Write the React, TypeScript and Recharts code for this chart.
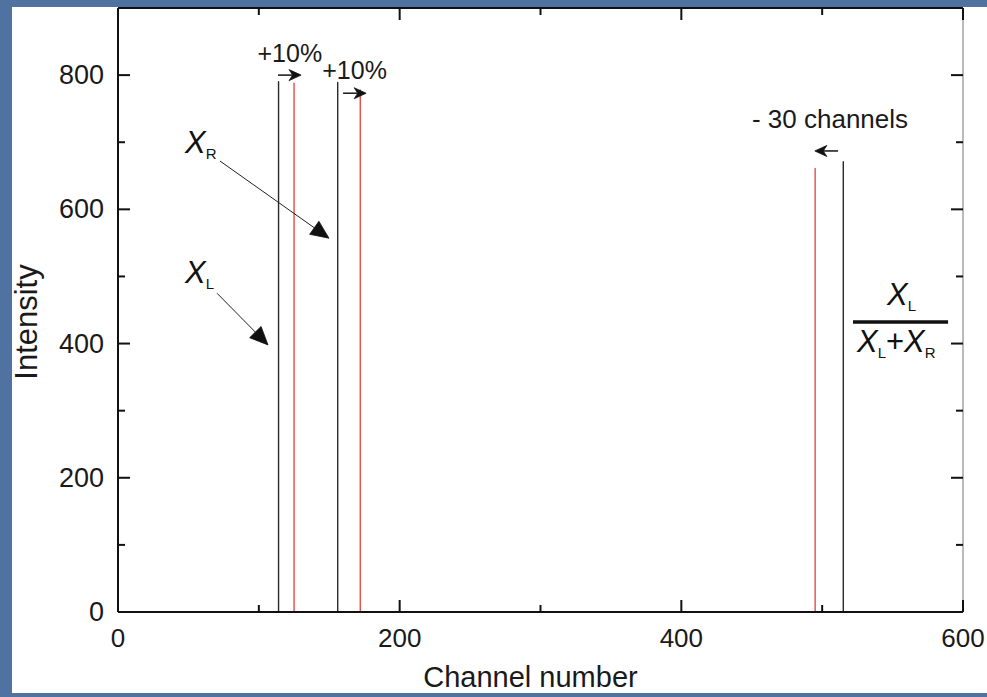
import { LineChart, Line, XAxis, YAxis, ReferenceLine, ReferenceDot, Label } from 'recharts'

// channel axis + intensity axis
const xTicks = [0, 100, 200, 300, 400, 500, 600]
const xTickLabels = ['0', '', '200', '', '400', '', '600']
const yTicks = [0, 100, 200, 300, 400, 500, 600, 700, 800, 900]
const yTickLabels = ['0', '', '200', '', '400', '', '600', '', '800', '']

// peaks before the shift (black) and after (red)
const originalChannels = [114, 156, 515]
const originalHeights = [790, 789, 671]
const shiftedChannels = [125, 172, 495]
const shiftedHeights = [788, 778, 661]

// annotations, in data units
const shiftTexts = [
  { ch: 122, y: 819, text: '+10%' },
  { ch: 168, y: 794, text: '+10%' },
]
const shiftArrows = [
  { from: [113.6, 800], to: [130, 800] },
  { from: [159.8, 773], to: [176.2, 773] },
  { from: [511.3, 687], to: [494.8, 687] },
]
const pointerArrows = [
  { from: [72.4, 672], to: [149.8, 557] },
  { from: [70.3, 475], to: [106.5, 398] },
]

const FONT = '"Liberation Sans", Arial, Helvetica, sans-serif'

function spectrum(channels: number[], heights: number[]) {
  const pts = [{ ch: 0, v: 0 }]
  channels.forEach((c, i) => {
    pts.push({ ch: c, v: 0 }, { ch: c, v: heights[i] }, { ch: c, v: 0 })
  })
  pts.push({ ch: 600, v: 0 })
  return pts
}

const blackData = spectrum(originalChannels, originalHeights)
const redData = spectrum(shiftedChannels, shiftedHeights)

function arrowShape(head: number, width: number, notch: number, lineW: number) {
  return (p: any) => {
    const { x1, y1, x2, y2 } = p
    const dx = x2 - x1
    const dy = y2 - y1
    const len = Math.hypot(dx, dy) || 1
    const ux = dx / len
    const uy = dy / len
    const nx = -uy
    const ny = ux
    const bx = x2 - ux * head
    const by = y2 - uy * head
    const mx = x2 - ux * head * notch
    const my = y2 - uy * head * notch
    const pts = [
      [x2, y2],
      [bx + (nx * width) / 2, by + (ny * width) / 2],
      [mx, my],
      [bx - (nx * width) / 2, by - (ny * width) / 2],
    ]
    return (
      <g>
        <line x1={x1} y1={y1} x2={mx} y2={my} stroke="#222" strokeWidth={lineW} />
        <polygon points={pts.map((q) => q.join(',')).join(' ')} fill="#111" stroke="#111" strokeWidth={0.8} strokeLinejoin="round" />
      </g>
    )
  }
}

function XSub({ x, y, sub, size = 31 }: { x: number; y: number; sub: string; size?: number }) {
  return (
    <text x={x} y={y} fontFamily={FONT} fill="#111" fontSize={size}>
      <tspan fontStyle="italic">X</tspan>
      <tspan fontSize={15} dy={6}>{sub}</tspan>
    </text>
  )
}

function BottomTick(props: any) {
  const { x, y, index } = props
  const axisY = y - 16
  const major = index % 2 === 0
  return (
    <g>
      <line x1={x} y1={axisY} x2={x} y2={axisY - (major ? 12 : 7)} stroke="#111" strokeWidth={2} />
      <text x={x} y={y + 19} textAnchor="middle" fontFamily={FONT} fontSize={26} fill="#1a1a1a">
        {xTickLabels[index]}
      </text>
    </g>
  )
}

function LeftTick(props: any) {
  const { x, y, index } = props
  const axisX = x + 14
  const major = index % 2 === 0
  return (
    <g>
      <line x1={axisX} y1={y} x2={axisX + (major ? 12 : 7)} y2={y} stroke="#111" strokeWidth={2} />
      <text x={x} y={y + 9} textAnchor="end" fontFamily={FONT} fontSize={27} fill="#1a1a1a">
        {yTickLabels[index]}
      </text>
    </g>
  )
}

function TopTick(props: any) {
  const { x, y, index } = props
  const major = index % 2 === 0
  return <line x1={x} y1={y} x2={x} y2={y + (major ? 12 : 7)} stroke="#111" strokeWidth={2} />
}

function RightTick(props: any) {
  const { x, y, index } = props
  const major = index % 2 === 0
  return <line x1={x} y1={y} x2={x - (major ? 12 : 7)} y2={y} stroke="#111" strokeWidth={2} />
}

export default function App() {
  return (
    <div style={{ position: 'absolute', left: 0, top: 0, width: 987, height: 697, background: '#4f72a0' }}>
      <div style={{ position: 'absolute', left: 12, top: 7, width: 975, height: 686, background: '#fff' }} />
      <div style={{ position: 'absolute', left: 0, top: 0, width: 987, height: 693, overflow: 'hidden' }}>
        <LineChart width={987} height={697} margin={{ top: 7, right: 23, bottom: 0, left: 0 }}>
          <XAxis
            dataKey="ch"
            type="number"
            domain={[0, 600]}
            allowDataOverflow
            ticks={xTicks}
            interval={0}
            height={85}
            tickSize={0}
            tickMargin={16}
            tickLine={false}
            tick={<BottomTick />}
            axisLine={{ stroke: '#111', strokeWidth: 2 }}
          >
            <Label
              content={(p: any) => {
                const vb = p.viewBox
                return (
                  <text x={vb.x + vb.width / 2 - 10} y={vb.y + 75} textAnchor="middle" fontFamily={FONT} fontSize={29} fill="#1a1a1a">
                    Channel number
                  </text>
                )
              }}
            />
          </XAxis>
          <XAxis
            xAxisId="top"
            orientation="top"
            dataKey="ch"
            type="number"
            domain={[0, 600]}
            allowDataOverflow
            ticks={xTicks}
            interval={0}
            height={1}
            tickSize={0}
            tickMargin={0}
            tickLine={false}
            tick={<TopTick />}
            axisLine={{ stroke: '#111', strokeWidth: 2 }}
          />
          <YAxis
            type="number"
            domain={[0, 900]}
            allowDataOverflow
            ticks={yTicks}
            interval={0}
            width={118}
            tickSize={0}
            tickMargin={14}
            tickLine={false}
            tick={<LeftTick />}
            axisLine={{ stroke: '#111', strokeWidth: 2 }}
          >
            <Label
              content={(p: any) => {
                const vb = p.viewBox
                const cx = vb.x + 37
                const cy = vb.y + vb.height / 2 + 12
                return (
                  <text x={cx} y={cy} transform={`rotate(-90 ${cx} ${cy})`} textAnchor="middle" fontFamily={FONT} fontSize={31} fill="#1a1a1a">
                    Intensity
                  </text>
                )
              }}
            />
          </YAxis>
          <YAxis
            yAxisId="right"
            orientation="right"
            type="number"
            domain={[0, 900]}
            allowDataOverflow
            ticks={yTicks}
            interval={0}
            width={1}
            tickSize={0}
            tickMargin={0}
            tickLine={false}
            tick={<RightTick />}
            axisLine={{ stroke: '#777', strokeWidth: 1 }}
          />

          <Line data={blackData} dataKey="v" stroke="#2a2a2a" strokeWidth={1.4} strokeLinejoin="round" dot={false} activeDot={false} isAnimationActive={false} />
          <Line data={redData} dataKey="v" stroke="#e0302c" strokeWidth={1.2} strokeLinejoin="round" dot={false} activeDot={false} isAnimationActive={false} />
          {/* invisible series so the mirror axes get a scale */}
          <Line data={blackData} dataKey="v" xAxisId="top" yAxisId="right" stroke="none" dot={false} activeDot={false} isAnimationActive={false} legendType="none" />

          {shiftArrows.map((a, i) => (
            <ReferenceLine
              key={`sa${i}`}
              segment={[{ x: a.from[0], y: a.from[1] }, { x: a.to[0], y: a.to[1] }]}
              shape={arrowShape(12, 11, 0.7, 1.6)}
            />
          ))}
          {pointerArrows.map((a, i) => (
            <ReferenceLine
              key={`pa${i}`}
              segment={[{ x: a.from[0], y: a.from[1] }, { x: a.to[0], y: a.to[1] }]}
              shape={arrowShape(18, 16, 1, 1)}
            />
          ))}
          {shiftTexts.map((t, i) => (
            <ReferenceDot
              key={`st${i}`}
              x={t.ch}
              y={t.y}
              shape={(p: any) => (
                <text x={p.cx} y={p.cy} textAnchor="middle" fontFamily={FONT} fontSize={25} fill="#1a1a1a">
                  {t.text}
                </text>
              )}
            />
          ))}
          <ReferenceDot
            x={561}
            y={721}
            shape={(p: any) => (
              <text x={p.cx} y={p.cy} textAnchor="end" fontFamily={FONT} fontSize={26} fill="#1a1a1a">
                - 30 channels
              </text>
            )}
          />
          <ReferenceDot x={47.6} y={684} shape={(p: any) => <XSub x={p.cx} y={p.cy} sub="R" />} />
          <ReferenceDot x={47.6} y={490} shape={(p: any) => <XSub x={p.cx} y={p.cy} sub="L" />} />
          <ReferenceDot x={546} y={457} shape={(p: any) => <XSub x={p.cx} y={p.cy} sub="L" />} />
          <ReferenceLine segment={[{ x: 521.9, y: 432 }, { x: 589.4, y: 432 }]} stroke="#111" strokeWidth={3.5} />
          <ReferenceDot
            x={524.7}
            y={387}
            shape={(p: any) => (
              <text x={p.cx} y={p.cy} fontFamily={FONT} fill="#111" fontSize={31}>
                <tspan fontStyle="italic">X</tspan>
                <tspan fontSize={15} dy={6}>L</tspan>
                <tspan dy={-6}>+</tspan>
                <tspan fontStyle="italic">X</tspan>
                <tspan fontSize={15} dy={6}>R</tspan>
              </text>
            )}
          />
        </LineChart>
      </div>
    </div>
  )
}
